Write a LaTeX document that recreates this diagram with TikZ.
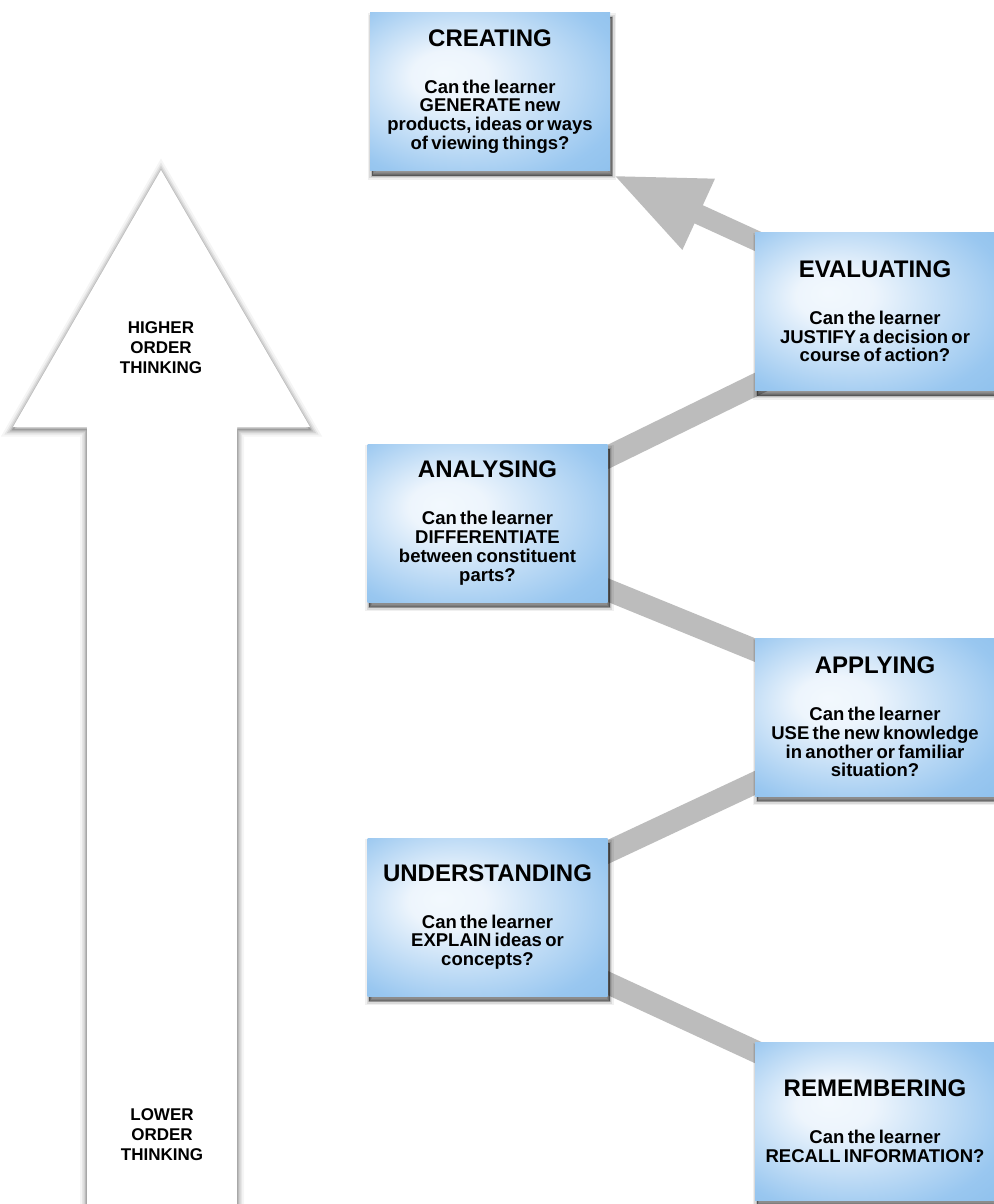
\documentclass[tikz,border=0pt]{standalone}
\usepackage{fontspec}
\setmainfont{Liberation Sans}
\usetikzlibrary{arrows.meta,calc}
\pgfdeclarelayer{bg}
\pgfdeclarelayer{shadow}
\pgfsetlayers{bg,shadow,main}
\pgfdeclareradialshading{boxglow}{\pgfpoint{-10bp}{6bp}}{rgb(0bp)=(0.95,0.975,0.995); rgb(8bp)=(0.93,0.96,0.99); rgb(32bp)=(0.60,0.78,0.94); rgb(50bp)=(0.50,0.72,0.91)}
\definecolor{conn}{RGB}{188,188,188}
\tikzset{
  bloom/.style={shade, shading=boxglow, minimum width=240pt, minimum height=158pt,
    inner sep=0pt, text width=236pt, align=center, font=\bfseries},
  band/.style={draw=conn, line width=22pt, shorten <=-15pt, shorten >=-15pt},
  glow/.style={draw=black, line join=miter, yshift=-2.5pt},
  boxshade/.style={draw=black, fill=black, line join=miter},
  side/.style={font=\bfseries\fontsize{17}{20}\selectfont, align=center, inner sep=0pt},
}
\newcommand{\btitle}[1]{{\fontsize{24}{24}\selectfont #1\par}\vspace{28pt}}
\newcommand{\bbody}[1]{{\fontsize{18.5}{18.8}\selectfont #1\par}}
\newcommand{\arrowoutline}{(161,170) -- (310,427) -- (237,427) -- (237,1240) -- (87,1240) -- (87,427) -- (13,427) -- cycle}
\begin{document}
\begin{tikzpicture}[x=1pt, y=-1pt]
\useasboundingbox (0,0) rectangle (993,1204);
\begin{pgfonlayer}{bg}
\fill[white] (0,0) rectangle (993,1204);
\end{pgfonlayer}
% big arrow with soft shadow
\foreach \w/\o in {14/0.04, 10/0.06, 7/0.08, 4/0.11, 1.5/0.16}{
  \draw[glow, line width=\w pt, opacity=\o] \arrowoutline;
}
\fill[white] \arrowoutline;
\node[side] (hi) at (161,348) {HIGHER\\ORDER\\THINKING};
\node[side] (lo) at (162,1135) {LOWER\\ORDER\\THINKING};
% boxes
\node[bloom] (cr) at (490,91.5) {\btitle{CREATING}\bbody{Can the learner\\GENERATE new\\products, ideas or ways\\of viewing things?}};
\node[bloom] (ev) at (875,311.5) {\btitle{EVALUATING}\bbody{Can the learner\\JUSTIFY a decision or\\course of action?}};
\node[bloom] (an) at (487.5,523) {\btitle{ANALYSING}\bbody{Can the learner\\DIFFERENTIATE\\between constituent\\parts?}};
\node[bloom] (ap) at (875,717) {\btitle{APPLYING}\bbody{Can the learner\\USE the new knowledge\\in another or familiar\\situation?}};
\node[bloom] (un) at (487.5,917) {\btitle{UNDERSTANDING}\bbody{Can the learner\\EXPLAIN ideas or\\concepts?}};
\node[bloom] (re) at (875,1121) {\btitle{REMEMBERING}\bbody{Can the learner\\RECALL INFORMATION?}};
% box shadows
\begin{pgfonlayer}{shadow}
\foreach \n in {cr,ev,an,ap,un,re}{
  \foreach \w/\o in {8/0.06, 5/0.09, 2.5/0.14, 0.5/0.2}{
    \path[boxshade, line width=\w pt, opacity=\o] ($(\n.north west)+(2,5)$) rectangle ($(\n.south east)+(2,5)$);
  }
}
\end{pgfonlayer}
% connectors
\begin{pgfonlayer}{bg}
\draw[band] ($(an.east)+(0,-66)$) -- ($(ev.west)+(0,73.5)$);
\draw[band] ($(an.east)+(0,67)$) -- ($(ap.west)+(0,-67)$);
\draw[band] ($(un.east)+(0,-65)$) -- ($(ap.west)+(0,66)$);
\draw[band] ($(un.east)+(0,66)$) -- ($(re.west)+(0,-70)$);
\draw[band, line width=20pt, shorten >=0pt, -{Triangle[length=94pt,width=72pt]}] ($(ev.west)+(0,-71.5)$) -- ($(cr.south east)+(3,4.5)$);
\end{pgfonlayer}
\end{tikzpicture}
\end{document}
